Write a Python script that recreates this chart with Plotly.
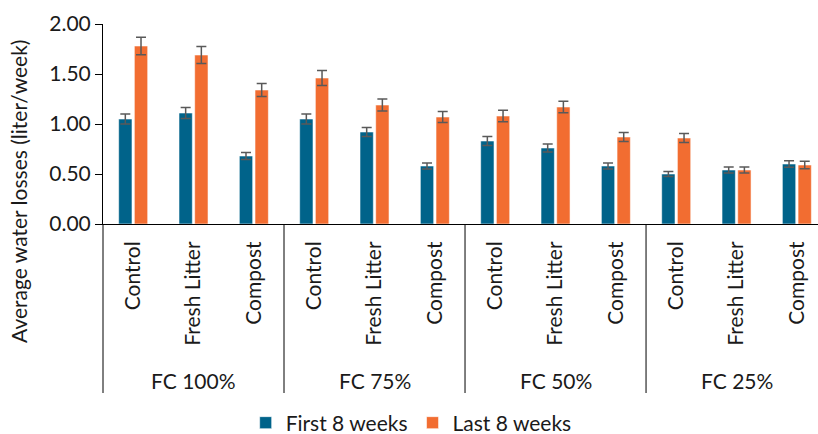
import plotly.graph_objects as go

# Treatments within each field-capacity level
treatments = ["Control", "Fresh Litter", "Compost"]
fc_levels = ["FC 100%", "FC 75%", "FC 50%", "FC 25%"]

# Average water losses (liter/week), ordered FC level by FC level, treatment by treatment
first_8_weeks = [1.05, 1.11, 0.68,
                 1.05, 0.92, 0.58,
                 0.83, 0.76, 0.58,
                 0.50, 0.54, 0.60]
first_8_err = [0.05, 0.055, 0.035,
               0.05, 0.045, 0.03,
               0.045, 0.04, 0.03,
               0.025, 0.03, 0.033]

last_8_weeks = [1.78, 1.69, 1.34,
                1.46, 1.19, 1.07,
                1.08, 1.17, 0.87,
                0.86, 0.54, 0.59]
last_8_err = [0.088, 0.085, 0.066,
              0.075, 0.06, 0.055,
              0.058, 0.058, 0.045,
              0.045, 0.03, 0.038]

y_ticks = [0.0, 0.5, 1.0, 1.5, 2.0]

BLUE = "#00638A"
ORANGE = "#F26D31"
ERR = "#595959"
TEXT = "#1a1a1a"
FONT = "Lato"
FS = 21

n_trt = len(treatments)
x_pos = list(range(len(fc_levels) * n_trt))
x_labels = [t for _ in fc_levels for t in treatments]
x_range = [-0.5, 11.35]

fig = go.Figure()
fig.add_trace(go.Bar(
    x=x_pos, y=first_8_weeks, name="First 8 weeks",
    marker=dict(color=BLUE, line=dict(color="rgba(255,255,255,0.55)", width=1)),
    error_y=dict(type="data", array=first_8_err, color=ERR, thickness=1.5, width=5),
))
fig.add_trace(go.Bar(
    x=x_pos, y=last_8_weeks, name="Last 8 weeks",
    marker=dict(color=ORANGE, line=dict(color="rgba(255,255,255,0.55)", width=1)),
    error_y=dict(type="data", array=last_8_err, color=ERR, thickness=1.5, width=5),
))

# Vertical separators between FC groups, running from the axis down past the group labels
x0, x1 = x_range
for g in range(len(fc_levels)):
    bx = g * n_trt - 0.5
    px = (bx - x0) / (x1 - x0)
    fig.add_shape(type="line", xref="paper", yref="paper",
                  x0=px, x1=px, y0=0, y1=-0.845,
                  line=dict(color="black", width=1))

# FC group labels
for g, lab in enumerate(fc_levels):
    fig.add_annotation(x=g * n_trt + 1, y=-0.78, xref="x", yref="paper",
                       text=lab, showarrow=False, yanchor="middle",
                       font=dict(family=FONT, size=FS, color=TEXT))

# Y-axis title, centred a little below the middle of the plot area
fig.add_annotation(x=-0.119, y=0.165, xref="paper", yref="paper",
                   xanchor="center", yanchor="middle",
                   text="Average water losses (liter/week)", showarrow=False,
                   textangle=-90, font=dict(family=FONT, size=FS, color=TEXT))

fig.update_layout(
    width=818, height=434,
    margin=dict(l=103, r=0, t=24, b=210, autoexpand=False),
    paper_bgcolor="white", plot_bgcolor="white",
    barmode="group", bargap=0.48, bargroupgap=0.15,
    font=dict(family=FONT, size=FS, color=TEXT),
    showlegend=True,
    legend=dict(orientation="h", x=0.431, xanchor="center", y=-0.995, yanchor="middle",
                font=dict(family=FONT, size=FS, color=TEXT),
                traceorder="normal", itemwidth=30),
    xaxis=dict(range=x_range, tickmode="array", tickvals=x_pos, ticktext=x_labels,
               tickangle=-90, ticks="", showline=True, linecolor="black", linewidth=1,
               showgrid=False, zeroline=False, ticklabelstandoff=8,
               tickfont=dict(family=FONT, size=FS, color=TEXT)),
    yaxis=dict(range=[0, 2], tickmode="array", tickvals=y_ticks,
               ticktext=[f"{v:.2f}" for v in y_ticks],
               ticks="outside", ticklen=7, tickcolor="black",
               showline=True, linecolor="black", linewidth=1,
               showgrid=False, zeroline=False,
               tickfont=dict(family=FONT, size=FS, color=TEXT)),
)

fig.write_html("out.html")
